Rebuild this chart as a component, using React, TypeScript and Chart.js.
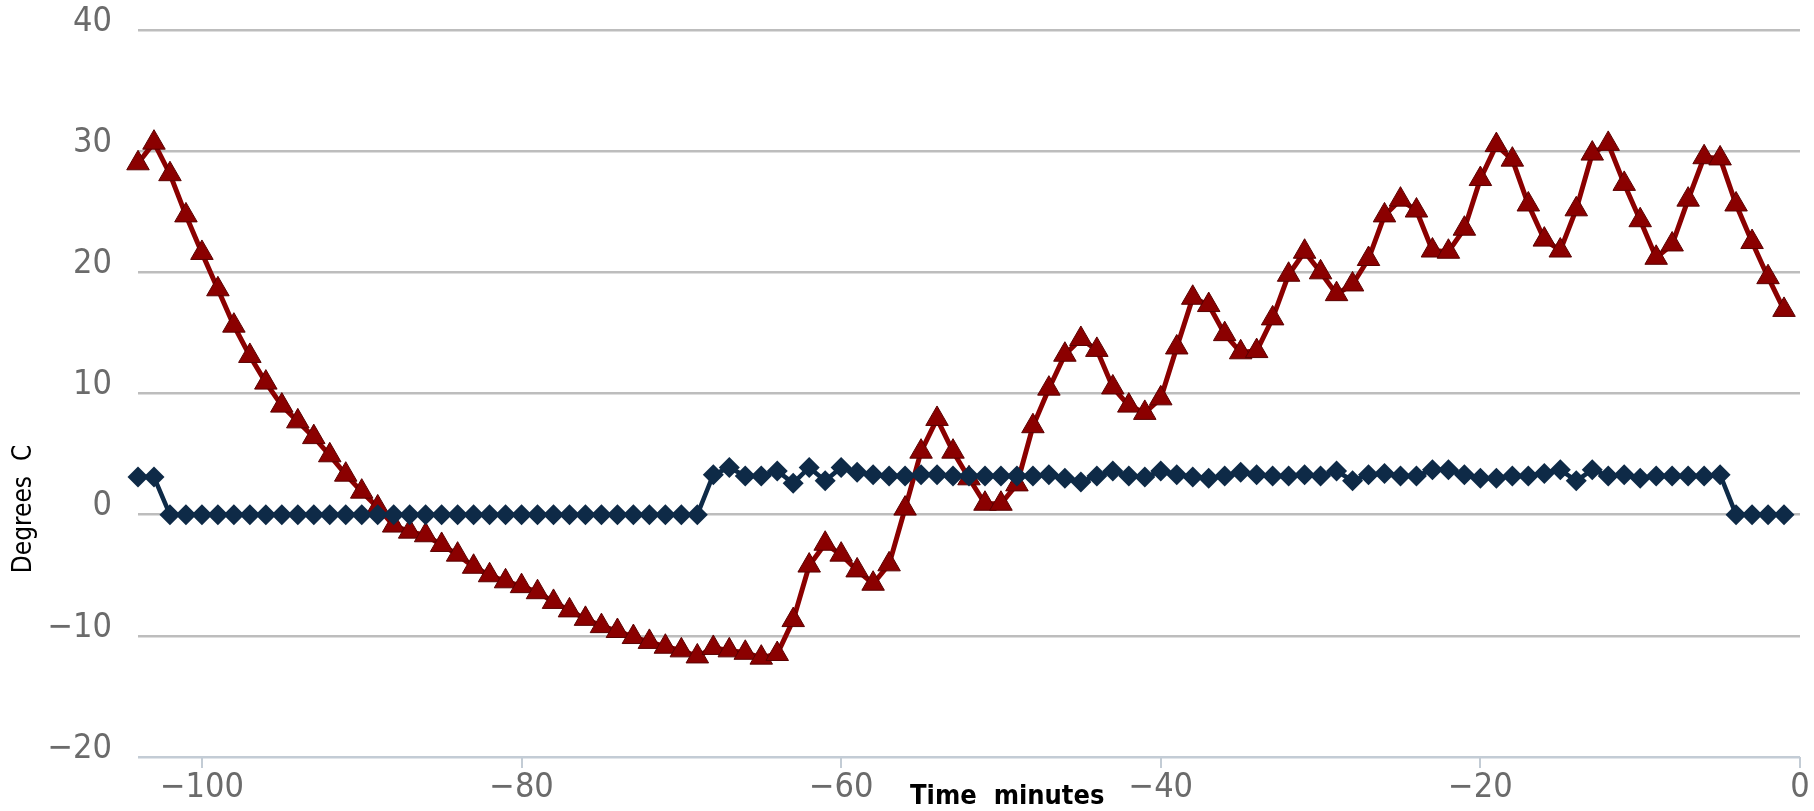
import React, { useEffect, useRef } from 'react';
import { Chart, registerables } from 'chart.js';

Chart.register(...registerables);

const minutes = [
  -104, -103, -102, -101, -100, -99, -98, -97, -96, -95, -94, -93, -92, -91, -90, -89,
  -88, -87, -86, -85, -84, -83, -82, -81, -80, -79, -78, -77, -76, -75, -74, -73,
  -72, -71, -70, -69, -68, -67, -66, -65, -64, -63, -62, -61, -60, -59, -58, -57,
  -56, -55, -54, -53, -52, -51, -50, -49, -48, -47, -46, -45, -44, -43, -42, -41,
  -40, -39, -38, -37, -36, -35, -34, -33, -32, -31, -30, -29, -28, -27, -26, -25,
  -24, -23, -22, -21, -20, -19, -18, -17, -16, -15, -14, -13, -12, -11, -10, -9,
  -8, -7, -6, -5, -4, -3, -2, -1,
];

// red triangles
const seriesA = [
  29.0, 30.7, 28.1, 24.7, 21.6, 18.6, 15.6, 13.1, 10.9, 9.0, 7.7, 6.4, 4.9, 3.3, 1.9, 0.6,
  -0.9, -1.4, -1.7, -2.5, -3.3, -4.3, -5.0, -5.5, -5.9, -6.4, -7.2, -7.9, -8.6, -9.2, -9.6, -10.1,
  -10.5, -10.9, -11.2, -11.7, -11.0, -11.2, -11.4, -11.8, -11.5, -8.7, -4.2, -2.4, -3.3, -4.6, -5.7, -4.1,
  0.5, 5.2, 7.9, 5.2, 3.0, 0.9, 0.9, 2.5, 7.3, 10.4, 13.2, 14.5, 13.6, 10.5, 9.0, 8.4,
  9.6, 13.8, 17.9, 17.3, 14.9, 13.4, 13.5, 16.2, 19.8, 21.7, 20.0, 18.2, 19.0, 21.1, 24.7, 26.0,
  25.1, 21.8, 21.7, 23.6, 27.7, 30.5, 29.3, 25.6, 22.7, 21.8, 25.2, 29.8, 30.6, 27.3, 24.3, 21.2,
  22.3, 26.0, 29.5, 29.4, 25.6, 22.5, 19.6, 16.9,
];

// dark blue diamonds
const seriesB = [
  3.1, 3.1, 0, 0, 0, 0, 0, 0, 0, 0, 0, 0, 0, 0, 0, 0,
  0, 0, 0, 0, 0, 0, 0, 0, 0, 0, 0, 0, 0, 0, 0, 0,
  0, 0, 0, 0, 3.3, 3.9, 3.2, 3.2, 3.6, 2.6, 3.9, 2.8, 3.9, 3.5, 3.3, 3.2,
  3.2, 3.3, 3.3, 3.2, 3.2, 3.2, 3.2, 3.2, 3.2, 3.3, 3.0, 2.7, 3.2, 3.6, 3.2, 3.1,
  3.6, 3.3, 3.1, 3.0, 3.2, 3.5, 3.3, 3.2, 3.2, 3.3, 3.2, 3.6, 2.8, 3.3, 3.4, 3.2,
  3.2, 3.7, 3.7, 3.3, 3.0, 3.0, 3.2, 3.2, 3.4, 3.7, 2.8, 3.7, 3.2, 3.3, 3.0, 3.2,
  3.2, 3.2, 3.2, 3.3, 0, 0, 0, 0,
];

const xTickValues = [-100, -80, -60, -40, -20, 0];
const yTickValues = [-20, -10, 0, 10, 20, 30, 40];
const xTitle = 'Time  minutes';
const yTitle = 'Degrees  C';

const fmt = (v: number) => (v < 0 ? '\u2212' + Math.abs(v) : String(v));

const titlesPlugin = {
  id: 'axisTitles',
  afterDraw(chart: any) {
    const { ctx, chartArea } = chart;
    ctx.save();
    ctx.fillStyle = '#000000';
    ctx.textAlign = 'center';
    ctx.textBaseline = 'middle';
    ctx.font = 'bold 27px "DejaVu Sans Condensed", "DejaVu Sans"';
    ctx.fillText(xTitle, chartArea.left + (chartArea.right - chartArea.left) * 0.523, 797);
    ctx.translate(24, 509);
    ctx.rotate(-Math.PI / 2);
    ctx.font = '26px "DejaVu Sans Condensed", "DejaVu Sans"';
    ctx.fillText(yTitle, 0, 0);
    ctx.restore();
  },
};

export default function App() {
  const canvasRef = useRef<HTMLCanvasElement | null>(null);

  useEffect(() => {
    if (!canvasRef.current) return;
    const chart = new Chart(canvasRef.current, {
      type: 'line',
      data: {
        datasets: [
          {
            label: 'Series B',
            data: minutes.map((m, i) => ({ x: m, y: seriesB[i] })),
            borderColor: '#0e2a47',
            backgroundColor: '#0e2a47',
            borderWidth: 4.5,
            pointStyle: 'rectRot',
            pointRadius: 10.5,
            pointBorderWidth: 0,
            pointBackgroundColor: '#0e2a47',
            tension: 0,
            clip: false as any,
          },
          {
            label: 'Series A',
            data: minutes.map((m, i) => ({ x: m, y: seriesA[i] })),
            borderColor: '#8b0000',
            backgroundColor: '#8b0000',
            borderWidth: 5,
            pointStyle: 'triangle',
            pointRadius: 13,
            pointBorderWidth: 1,
            pointBorderColor: '#5a0000',
            pointBackgroundColor: '#8b0000',
            tension: 0,
            clip: false as any,
          },
        ],
      },
      options: {
        animation: false,
        responsive: true,
        maintainAspectRatio: false,
        layout: { padding: { top: 30, right: 14, left: 0, bottom: 0 } },
        plugins: {
          legend: { display: false },
          tooltip: { enabled: false },
          title: { display: false },
        },
        scales: {
          x: {
            type: 'linear',
            min: -104,
            max: 0,
            afterBuildTicks: (s: any) => {
              s.ticks = xTickValues.map((v) => ({ value: v }));
            },
            afterFit: (s: any) => {
              s.height = 54;
              s.paddingLeft = 0;
              s.paddingRight = 0;
            },
            border: { display: false },
            grid: {
              drawOnChartArea: false,
              drawTicks: true,
              tickLength: 11,
              color: '#c3ccd5',
              lineWidth: 2,
            },
            ticks: {
              padding: 0,
              color: '#6b6b6b',
              font: { family: '"DejaVu Sans Condensed", "DejaVu Sans"', size: 34 },
              maxRotation: 0,
              autoSkip: false,
              callback: (v: any) => fmt(Number(v)),
            },
          },
          y: {
            type: 'linear',
            min: -20,
            max: 40,
            afterBuildTicks: (s: any) => {
              s.ticks = yTickValues.map((v) => ({ value: v }));
            },
            afterFit: (s: any) => {
              s.width = 138;
              s.paddingTop = 0;
              s.paddingBottom = 0;
            },
            border: { display: false },
            grid: {
              drawTicks: false,
              color: (c: any) => (c.tick && c.tick.value === -20 ? '#c3ccd5' : '#bdbdbd'),
              lineWidth: 2.5,
            },
            ticks: {
              padding: 26,
              labelOffset: -8,
              color: '#6b6b6b',
              font: { family: '"DejaVu Sans Condensed", "DejaVu Sans"', size: 34 },
              callback: (v: any) => fmt(Number(v)),
            },
          },
        },
      },
      plugins: [titlesPlugin],
    } as any);
    return () => chart.destroy();
  }, []);

  return (
    <div style={{ position: 'fixed', left: 0, top: 0, width: 1814, height: 811, background: '#ffffff' }}>
      <canvas ref={canvasRef} />
    </div>
  );
}
